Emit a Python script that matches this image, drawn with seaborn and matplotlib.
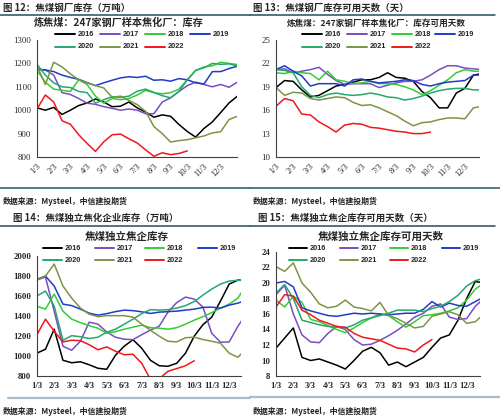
import numpy as np
import pandas as pd
import matplotlib
matplotlib.use("Agg")
import matplotlib.pyplot as plt
import seaborn as sns
from matplotlib.lines import Line2D

sns.set_style("white")
plt.rcParams['font.family'] = ['Noto Sans CJK SC', 'DejaVu Sans']

nan = np.nan
months = np.arange(25) * 0.5          # 0 = 1/3, 1 = 2/3, ...
tick_labels = [f"{m}/3" for m in range(1, 13)]
years = ['2016', '2017', '2018', '2019', '2020', '2021', '2022']
colors = ['#000000', '#7b4cc4', '#33cc33', '#1f3cc6', '#25a86b', '#7a9645', '#f01818']

# ---- 图12 钢厂库存（万吨）
tl_2016 = [1010, 1000, 1012, 982, 1000, 1020, 1031, 1048, 1035, 1015, 1017, 1035, 1010, 992, 970, 980, 974, 939, 909, 885, 922, 950, 990, 1031, 1060]
tl_2017 = [1175, 1172, 1150, 1075, 1067, 1050, 1030, 1025, 1015, 1008, 1000, 1005, 1000, 985, 985, 1035, 1053, 1080, 1105, 1120, 1110, 1100, 1110, 1098, 1120]
tl_2018 = [1170, 1120, 1090, 1085, 1080, 1130, 1110, 1060, 1030, 1050, 1045, 1050, 1065, 1085, 1075, 1070, 1075, 1090, 1130, 1170, 1185, 1190, 1205, 1200, 1195]
tl_2019 = [1175, 1172, 1165, 1150, 1140, 1132, 1118, 1105, 1117, 1128, 1138, 1143, 1140, 1145, 1128, 1130, 1124, 1135, 1130, 1117, 1112, 1165, 1165, 1178, 1188]
tl_2020 = [1196, 1150, 1117, 1100, 1097, 1080, 1075, 1030, 1045, 1058, 1055, 1060, 1081, 1090, 1076, 1062, 1053, 1080, 1130, 1170, 1181, 1200, 1196, 1198, 1189]
tl_2021 = [1190, 1110, 1205, 1185, 1155, 1130, 1117, 1105, 1095, 1055, 1060, 1042, 1024, 995, 930, 900, 864, 870, 874, 882, 890, 903, 908, 960, 974]
tl_2022 = [1005, 1065, 1035, 955, 940, 895, 858, 824, 865, 895, 898, 878, 860, 831, 803, 818, 810, 815, 826, nan, nan, nan, nan, nan, nan]

# ---- 图13 钢厂库存可用天数（天）
tr_2016 = [18.9, 19.8, 19.7, 18.6, 17.7, 17.9, 18.5, 19.1, 19.3, 19.6, 19.9, 19.9, 20.2, 20.8, 20.2, 20.1, 19.7, 18.4, 17.6, 16.3, 16.3, 18.2, 18.8, 20.5, 20.7]
tr_2017 = [21.2, 21.3, 20.8, 21.0, 21.2, 21.5, 20.6, 19.8, 19.3, 19.4, 19.4, 19.4, 18.9, 19.2, 19.5, 19.7, 19.7, 19.9, 20.5, 21.2, 21.7, 21.7, 21.4, 21.3, 21.2]
tr_2018 = [20.8, 20.7, 21.0, 20.8, 20.7, 19.9, 21.0, 19.9, 19.7, 19.4, 19.5, 19.7, 19.4, 19.4, 19.3, 19.0, 18.6, 18.0, 18.5, 19.2, 19.9, 20.8, 21.2, 21.0, 21.0]
tr_2019 = [21.2, 21.7, 21.0, 20.4, 19.1, 19.4, 19.4, 19.4, 19.1, 19.9, 20.0, 19.7, 19.5, 19.6, 19.7, 19.9, 19.8, 19.3, 19.1, 19.4, 19.6, 19.7, 19.8, 20.5, 20.5]
tr_2020 = [21.2, 21.1, 20.8, 19.0, 17.9, 17.6, 18.0, 18.2, 18.0, 17.9, 18.0, 18.2, 18.0, 17.7, 17.6, 17.3, 17.5, 17.8, 18.2, 18.5, 18.7, 18.8, 18.8, 18.6, 18.6]
tr_2021 = [18.9, 17.9, 18.3, 18.2, 17.5, 17.3, 17.5, 17.7, 17.6, 17.0, 16.6, 16.7, 16.3, 15.8, 15.3, 14.6, 14.0, 14.4, 14.5, 14.8, 15.0, 15.0, 14.9, 16.3, 16.5]
tr_2022 = [16.5, 17.5, 17.2, 15.5, 15.4, 14.5, 13.9, 13.2, 14.1, 14.3, 14.2, 13.8, 13.7, 13.5, 13.3, 13.2, 13.0, 13.0, 13.2, nan, nan, nan, nan, nan, nan]

# ---- 图14 独立焦化企业库存（万吨）
bl_2016 = [1030, 1070, 1270, 960, 935, 945, 915, 880, 870, 1010, 1100, 1165, 1080, 960, 905, 900, 930, 1030, 1200, 1315, 1390, 1550, 1720, 1760, 1755]
bl_2017 = [1760, 1790, 1450, 1100, 1060, 1150, 1340, 1320, 1243, 1190, 1170, 1165, 1215, 1260, 1300, 1440, 1535, 1590, 1570, 1490, 1230, 1140, 1143, 1300, 1430]
bl_2018 = [1500, 1470, 1620, 1450, 1370, 1335, 1305, 1280, 1230, 1245, 1270, 1290, 1310, 1285, 1280, 1270, 1285, 1320, 1360, 1395, 1435, 1480, 1520, 1580, 1720]
bl_2019 = [1767, 1800, 1700, 1520, 1505, 1470, 1430, 1410, 1425, 1445, 1460, 1455, 1443, 1427, 1440, 1445, 1450, 1460, 1470, 1487, 1490, 1480, 1510, 1530, 1560]
bl_2020 = [1600, 1650, 1500, 1160, 1205, 1195, 1177, 1190, 1240, 1270, 1320, 1370, 1425, 1465, 1460, 1465, 1480, 1505, 1545, 1610, 1670, 1720, 1750, 1758, 1755]
bl_2021 = [1760, 1800, 1920, 1700, 1580, 1480, 1420, 1395, 1405, 1405, 1405, 1390, 1320, 1260, 1200, 1150, 1143, 1185, 1190, 1167, 1150, 1130, 1030, 990, 1080]
bl_2022 = [1210, 1370, 1250, 1143, 1160, 1155, 1115, 1065, 1093, 1050, 1015, 1020, 930, 770, 775, 850, 877, 905, 955, nan, nan, nan, nan, nan, nan]

# ---- 图15 独立焦企库存可用天数（天）
br_2016 = [11.6, 12.9, 14.2, 10.4, 10.0, 10.2, 9.8, 9.4, 8.9, 10.0, 11.2, 11.7, 11.0, 9.4, 9.8, 9.2, 9.8, 10.4, 11.7, 12.9, 13.3, 15.2, 18.0, 20.2, 20.0]
br_2017 = [18.5, 19.7, 16.0, 13.3, 12.4, 12.3, 13.5, 14.4, 14.0, 12.7, 12.0, 12.1, 12.6, 13.2, 13.9, 14.7, 15.6, 16.1, 17.0, 17.3, 15.6, 15.3, 15.4, 17.0, 18.0]
br_2018 = [17.8, 16.9, 18.3, 17.5, 15.3, 15.0, 14.5, 14.0, 13.6, 14.2, 14.9, 15.5, 16.0, 15.8, 15.0, 14.3, 15.0, 15.8, 15.9, 16.1, 16.4, 16.8, 17.8, 19.2, 20.0]
br_2019 = [20.0, 20.2, 19.5, 16.8, 16.4, 16.1, 15.8, 15.7, 15.9, 16.1, 16.0, 16.1, 16.0, 15.9, 16.0, 16.1, 16.1, 16.6, 17.6, 16.9, 17.4, 17.1, 17.0, 17.6, 18.2]
br_2020 = [18.7, 19.8, 18.0, 15.2, 14.9, 14.6, 14.4, 14.3, 14.2, 14.6, 15.2, 15.5, 15.8, 16.1, 16.5, 16.5, 16.5, 16.3, 16.7, 17.0, 17.6, 18.4, 19.6, 20.3, 20.6]
br_2021 = [22.1, 21.5, 22.6, 20.0, 18.8, 17.3, 16.8, 17.0, 17.8, 16.9, 16.7, 16.4, 17.5, 15.8, 15.4, 14.8, 14.2, 14.4, 15.7, 16.0, 16.3, 15.9, 14.8, 15.0, 16.0]
br_2022 = [16.9, 18.5, 18.3, 16.5, 15.9, 15.2, 14.8, 14.4, 14.3, 13.5, 13.0, 12.8, 12.6, 12.1, 11.6, 11.5, 11.1, 12.0, 12.7, nan, nan, nan, nan, nan, nan]

W, H = 500, 420
fig = plt.figure(figsize=(5, 4.2), dpi=100)


def fx(x):
    return x / W


def fy(y):
    return 1 - y / H


def long_df(series):
    rows = []
    for yr, vals in zip(years, series):
        for m, v in zip(months, vals):
            rows.append((m, v, yr))
    return pd.DataFrame(rows, columns=['month', 'value', 'year']).dropna()


palette = dict(zip(years, colors))


def panel(series, left, top, bottom, mpx, xmax, ylim, yticks, rotate, bold):
    width = xmax * mpx
    ax = fig.add_axes([fx(left), fy(bottom), width / W, (bottom - top) / H])
    df = long_df(series)
    sns.lineplot(data=df, x='month', y='value', hue='year', palette=palette,
                 hue_order=years, legend=False, ax=ax, linewidth=1.1,
                 sort=True, estimator=None)
    ax.set_xlim(0, xmax)
    ax.set_ylim(*ylim)
    ax.set_yticks(yticks)
    ax.set_xticks(np.arange(12))
    ax.set_xlabel('')
    ax.set_ylabel('')
    for s in ['top', 'right']:
        ax.spines[s].set_visible(False)
    for s in ['left', 'bottom']:
        ax.spines[s].set_color('#404040')
        ax.spines[s].set_linewidth(0.8)
    ax.tick_params(axis='both', which='both', direction='out', length=2.5,
                   width=0.6, color='#404040', pad=1.5)
    wt = 'bold' if bold else 'normal'
    ax.set_yticklabels([str(t) for t in yticks], fontsize=6.3,
                       family=['Liberation Serif'], fontweight=wt)
    if rotate:
        ax.set_xticklabels(tick_labels, fontsize=6, rotation=45, ha='right',
                           rotation_mode='anchor', family=['Liberation Serif'])
    else:
        ax.set_xticklabels(tick_labels, fontsize=6.3, family=['Liberation Serif'],
                           fontweight='bold')
    ax.set_facecolor('none')
    return ax


panel([tl_2016, tl_2017, tl_2018, tl_2019, tl_2020, tl_2021, tl_2022],
      37, 40, 157, 16.7, 11.95, (800, 1300), list(range(800, 1301, 100)), True, False)
panel([tr_2016, tr_2017, tr_2018, tr_2019, tr_2020, tr_2021, tr_2022],
      276, 40, 157, 17.17, 11.85, (10, 25), list(range(10, 26, 3)), True, False)
panel([bl_2016, bl_2017, bl_2018, bl_2019, bl_2020, bl_2021, bl_2022],
      36.7, 256, 376.3, 17.5, 11.7, (800, 2000), list(range(800, 2001, 200)), False, True)
panel([br_2016, br_2017, br_2018, br_2019, br_2020, br_2021, br_2022],
      276, 252, 376, 17.33, 11.8, (8, 24), list(range(8, 25, 2)), False, True)


def legend(rows_y, cols_x, length, fs):
    for i, (yr, c) in enumerate(zip(years, colors)):
        r, k = divmod(i, 4)
        x0 = cols_x[k]
        y = rows_y[r]
        fig.add_artist(Line2D([fx(x0), fx(x0 + length)], [fy(y), fy(y)],
                              transform=fig.transFigure, color=c, lw=1.4))
        fig.text(fx(x0 + length + 3), fy(y), yr, fontsize=fs, fontweight='bold',
                 family=['Liberation Sans'], va='center', ha='left')


legend([34, 47], [55, 100, 145, 190], 20, 5.3)
legend([34, 47], [302, 347, 392, 435], 20, 5.3)
legend([248, 260], [43, 95, 145, 198], 19, 5.3)
legend([248, 260], [289, 340, 390, 442], 18, 5.3)

hdr = dict(fontsize=6.8, fontweight='bold', va='center', ha='left')
fig.text(fx(3), fy(8), "图 12：焦煤钢厂库存（万吨）", **hdr)
fig.text(fx(253), fy(8), "图 13：焦煤钢厂库存可用天数（天）", **hdr)
fig.text(fx(13), fy(218), "图 14：焦煤独立焦化企业库存（万吨）", **hdr)
fig.text(fx(258), fy(218), "图 15：焦煤独立焦企库存可用天数（天）", **hdr)

fig.text(fx(119), fy(23), "炼焦煤：247家钢厂样本焦化厂：库存", fontsize=7.3,
         fontweight='bold', ha='center', va='center')
fig.text(fx(376), fy(23), "炼焦煤：247家钢厂样本焦化厂：库存可用天数", fontsize=6.2,
         fontweight='bold', ha='center', va='center')
fig.text(fx(127), fy(237), "焦煤独立焦企库存", fontsize=7.6,
         fontweight='bold', ha='center', va='center')
fig.text(fx(381), fy(237), "焦煤独立焦企库存可用天数", fontsize=7.6,
         fontweight='bold', ha='center', va='center')

src = dict(fontsize=5.7, fontweight='bold', va='center', ha='left', color='#222222')
fig.text(fx(3), fy(201), "数据来源：Mysteel，中信建投期货", **src)
fig.text(fx(253), fy(201), "数据来源：Mysteel，中信建投期货", **src)
fig.text(fx(3), fy(411), "数据来源：Mysteel，中信建投期货", **src)
fig.text(fx(253), fy(411), "数据来源：Mysteel，中信建投期货", **src)


def hline(x0, x1, y, color, lw):
    fig.add_artist(Line2D([fx(x0), fx(x1)], [fy(y), fy(y)],
                          transform=fig.transFigure, color=color, lw=lw))


hline(0, 250, 15, '#1f4e5e', 1.1)
hline(250, 495, 15, '#1f4e5e', 1.1)
hline(0, 250, 188, '#1f5a6a', 1.1)
hline(250, 500, 188, '#1f5a6a', 1.1)
hline(0, 250, 226, '#1f4e5e', 1.1)
hline(250, 495, 226, '#1f4e5e', 1.1)
hline(8, 250, 398, '#a9bccf', 1.6)
hline(250, 500, 397, '#a9bccf', 1.6)

fig.savefig("out.png", dpi=100)
